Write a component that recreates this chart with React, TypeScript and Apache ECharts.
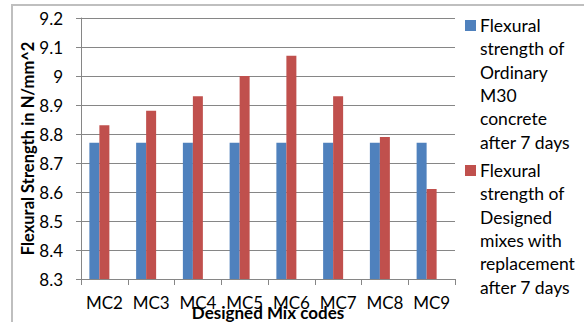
import React, { useEffect, useRef } from "react";
import * as echarts from "echarts";

const mixCodes = ["MC2", "MC3", "MC4", "MC5", "MC6", "MC7", "MC8", "MC9"];
const ordinaryM30 = [8.77, 8.77, 8.77, 8.77, 8.77, 8.77, 8.77, 8.77];
const designedMixes = [8.83, 8.88, 8.93, 9.0, 9.07, 8.93, 8.79, 8.61];
const legendNames = [
  "Flexural\nstrength of\nOrdinary\nM30\nconcrete\nafter 7 days",
  "Flexural\nstrength of\nDesigned\nmixes with\nreplacement\nafter 7 days",
];

const FONT = "Lato, 'Liberation Sans', sans-serif";
const BLUE = "#4F81BD";
const RED = "#C0504D";
const GRID_LINE = "#868686";

export default function App() {
  const ref = useRef<HTMLDivElement>(null);

  useEffect(() => {
    if (!ref.current) return;
    const chart = echarts.init(ref.current, null, { renderer: "svg" });
    const yBase = {
      min: 8.3,
      max: 9.2,
      interval: 0.1,
    };
    chart.setOption({
      animation: false,
      backgroundColor: "#ffffff",
      textStyle: { fontFamily: FONT },
      grid: [
        { left: 81, right: 129, top: 18, bottom: 43, containLabel: false, outerBoundsMode: "none" },
        // bars sit slightly left of their category slots
        { left: 76, right: 134, top: 18, bottom: 43, containLabel: false, outerBoundsMode: "none" },
      ],
      xAxis: [
        {
          type: "category",
          gridIndex: 0,
          data: mixCodes,
          axisLine: { lineStyle: { color: GRID_LINE, width: 1 } },
          axisTick: { show: true, length: 6, lineStyle: { color: GRID_LINE } },
          axisLabel: { color: "#000", fontSize: 17, fontFamily: FONT, margin: 15, interval: 0 },
          name: "Designed Mix codes",
          nameLocation: "middle",
          nameGap: 25,
          nameMoveOverlap: false,
          nameTextStyle: { color: "#000", fontSize: 17, fontWeight: "bold", fontFamily: FONT },
        },
        {
          type: "category",
          gridIndex: 1,
          data: mixCodes,
          show: false,
        },
      ],
      yAxis: [
        {
          type: "value",
          gridIndex: 0,
          ...yBase,
          axisLine: { show: true, lineStyle: { color: GRID_LINE, width: 1 } },
          axisTick: { show: true, length: 5, lineStyle: { color: GRID_LINE } },
          splitLine: { show: true, lineStyle: { color: GRID_LINE, width: 1 } },
          axisLabel: {
            color: "#000",
            fontSize: 17,
            fontFamily: FONT,
            margin: 18,
            formatter: (v: number) => String(Math.round(v * 10) / 10),
          },
          name: "Flexural Strength in N/mm^2",
          nameLocation: "middle",
          nameGap: 45,
          nameMoveOverlap: false,
          nameTextStyle: { color: "#000", fontSize: 16.5, fontWeight: "bold", fontFamily: FONT },
        },
        {
          type: "value",
          gridIndex: 1,
          ...yBase,
          show: false,
          splitLine: { show: false },
        },
      ],
      series: [
        {
          type: "bar",
          name: legendNames[0],
          xAxisIndex: 1,
          yAxisIndex: 1,
          data: ordinaryM30,
          barWidth: 10,
          barGap: "0%",
          itemStyle: { color: BLUE },
        },
        {
          type: "bar",
          name: legendNames[1],
          xAxisIndex: 1,
          yAxisIndex: 1,
          data: designedMixes,
          barWidth: 10,
          barGap: "0%",
          itemStyle: { color: RED },
        },
      ],
      graphic: [
        {
          type: "rect",
          shape: { x: 12, y: 5, width: 580, height: 330 },
          style: { fill: "none", stroke: "#BFBFBF", lineWidth: 2 },
          silent: true,
        },
        {
          type: "rect",
          shape: { x: 465, y: 20, width: 11, height: 11 },
          style: { fill: BLUE },
        },
        {
          type: "text",
          x: 480,
          y: 14,
          style: {
            text: legendNames[0],
            fill: "#000",
            font: `17.5px ${FONT}`,
            lineHeight: 23.3,
            verticalAlign: "top",
          },
        },
        {
          type: "rect",
          shape: { x: 465, y: 165, width: 11, height: 11 },
          style: { fill: RED },
        },
        {
          type: "text",
          x: 480,
          y: 159,
          style: {
            text: legendNames[1],
            fill: "#000",
            font: `17.5px ${FONT}`,
            lineHeight: 23.3,
            verticalAlign: "top",
          },
        },
      ],
    });
    return () => chart.dispose();
  }, []);

  return (
    <div
      ref={ref}
      style={{ width: 584, height: 322, position: "absolute", left: 0, top: 0 }}
    />
  );
}
